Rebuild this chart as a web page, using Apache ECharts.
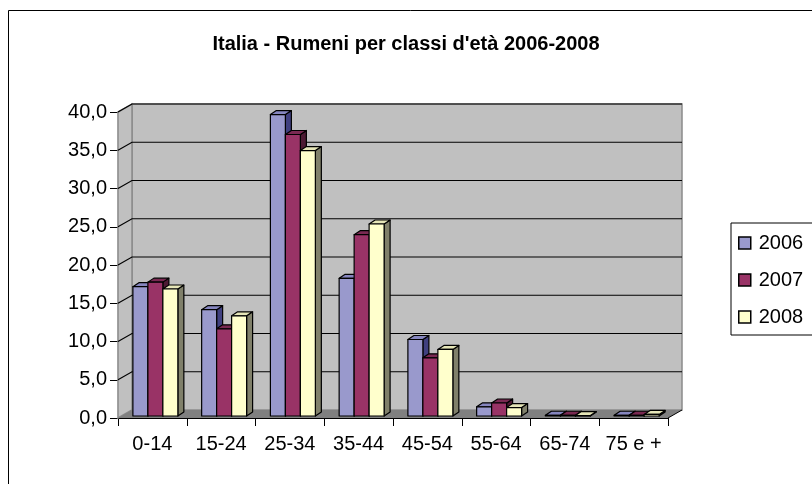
<!DOCTYPE html>
<html>
<head>
<meta charset="UTF-8">
<title>Rumeni per classi d'età</title>
<script src="https://cdn.jsdelivr.net/npm/echarts@6/dist/echarts.min.js"></script>
<style>
  html, body { margin: 0; padding: 0; background: #fff; }
  #main { width: 812px; height: 484px; }
</style>
</head>
<body>
<div id="main"></div>
<script type="text/javascript">
// categorie e valori (percentuali)
var categories = ['0-14', '15-24', '25-34', '35-44', '45-54', '55-64', '65-74', '75 e +'];
var years = ['2006', '2007', '2008'];
var values2006 = [16.9, 13.9, 39.4, 18.0, 10.0, 1.2, 0.1, 0.1];
var values2007 = [17.5, 11.4, 36.8, 23.7, 7.6, 1.7, 0.1, 0.1];
var values2008 = [16.6, 13.1, 34.7, 25.1, 8.7, 1.1, 0.05, 0.2];
var yTicks = [0, 5, 10, 15, 20, 25, 30, 35, 40];

var frontColors = ['#9999cc', '#993366', '#ffffcc'];
var topColors = ['#8686bf', '#7a2952', '#e6e6b8'];
var sideColors = ['#404080', '#4d1a33', '#80806a'];

var WALL_DX = 14, WALL_DY = 8;   // profondita pareti
var BAR_SX = 3, BAR_SY = -2;     // spostamento barre
var CAP_DX = 6, CAP_DY = 4;      // spessore barre

var FONT = 'Liberation Sans, Arial, sans-serif';

var myChart = echarts.init(document.getElementById('main'));

function barRenderer(si) {
    return function (params, api) {
        var cat = api.value(0);
        var base = api.coord([cat, 0]);
        var top = api.coord([cat, api.value(1)]);
        var bw = api.size([1, 0])[0];
        var w = bw * 0.218;
        var x0 = base[0] - 1.5 * w + si * w + BAR_SX;
        var yb = base[1] + BAR_SY;
        var yt = top[1] + BAR_SY;
        var line = { stroke: '#000', lineWidth: 1.2, lineJoin: 'round' };
        return {
            type: 'group',
            children: [
                {
                    type: 'polygon',
                    shape: { points: [[x0 + w, yt], [x0 + w + CAP_DX, yt - CAP_DY], [x0 + w + CAP_DX, yb - CAP_DY], [x0 + w, yb]] },
                    style: Object.assign({ fill: sideColors[si] }, line)
                },
                {
                    type: 'polygon',
                    shape: { points: [[x0, yt], [x0 + CAP_DX, yt - CAP_DY], [x0 + w + CAP_DX, yt - CAP_DY], [x0 + w, yt]] },
                    style: Object.assign({ fill: topColors[si] }, line)
                },
                {
                    type: 'rect',
                    shape: { x: x0, y: yt, width: w, height: yb - yt },
                    style: Object.assign({ fill: frontColors[si] }, line)
                }
            ]
        };
    };
}

// pareti e griglia
function wallRenderer(params, api) {
    var cs = params.coordSys;
    var y = api.coord([0, api.value(0)])[1];
    var left = cs.x, right = cs.x + cs.width;
    var children = [];
    if (params.dataIndex === 0) {
        var top = cs.y, bottom = cs.y + cs.height;
        children.push({
            type: 'polygon',
            shape: { points: [[left + WALL_DX, top - WALL_DY], [right + WALL_DX, top - WALL_DY], [right + WALL_DX, bottom - WALL_DY], [left + WALL_DX, bottom - WALL_DY]] },
            style: { fill: '#c0c0c0', stroke: '#8a8a8a', lineWidth: 1.5 }
        });
        children.push({
            type: 'polygon',
            shape: { points: [[left, top], [left + WALL_DX, top - WALL_DY], [left + WALL_DX, bottom - WALL_DY], [left, bottom]] },
            style: { fill: '#c0c0c0', stroke: '#8a8a8a', lineWidth: 1.5 }
        });
        children.push({
            type: 'polygon',
            shape: { points: [[left, bottom], [left + WALL_DX, bottom - WALL_DY], [right + WALL_DX, bottom - WALL_DY], [right, bottom]] },
            style: { fill: '#808080' }
        });
        children.push({
            type: 'line',
            shape: { x1: right, y1: bottom, x2: right + WALL_DX, y2: bottom - WALL_DY },
            style: { stroke: '#000', lineWidth: 1 }
        });
        return { type: 'group', children: children };
    }
    children.push({
        type: 'polyline',
        shape: { points: [[left, y], [left + WALL_DX, y - WALL_DY], [right + WALL_DX, y - WALL_DY]] },
        style: { stroke: '#000', lineWidth: 1.2, fill: null }
    });
    return { type: 'group', children: children };
}

function makeData(arr) {
    return arr.map(function (v, i) { return [i, v]; });
}

var allValues = [values2006, values2007, values2008];

var series = [{
    type: 'custom',
    name: 'wall',
    z: 1,
    silent: true,
    renderItem: wallRenderer,
    encode: { y: 0 },
    data: yTicks.map(function (t) { return [t]; })
}];
years.forEach(function (y, si) {
    series.push({
        type: 'custom',
        name: y,
        z: 3,
        itemStyle: { color: frontColors[si] },
        renderItem: barRenderer(si),
        encode: { x: 0, y: 1 },
        data: makeData(allValues[si])
    });
});

var option = {
    animation: false,
    textStyle: { fontFamily: FONT },
    title: {
        text: "Italia - Rumeni per classi d'età 2006-2008",
        left: 'center',
        top: 29,
        textStyle: { fontSize: 20, fontWeight: 'bold', color: '#000', fontFamily: FONT }
    },
    graphic: [{
        type: 'rect',
        shape: { x: 8.5, y: 10.5, width: 900, height: 600 },
        style: { fill: null, stroke: '#000', lineWidth: 1 },
        silent: true
    }],
    legend: {
        data: years,
        orient: 'vertical',
        left: 731,
        top: 223,
        icon: 'rect',
        itemWidth: 12,
        itemHeight: 12,
        itemGap: 17,
        padding: [10, 30, 8, 7],
        borderColor: '#000',
        borderWidth: 1,
        itemStyle: { borderColor: '#000', borderWidth: 1.5 },
        textStyle: { fontSize: 20, color: '#000', fontFamily: FONT, padding: [0, 0, 0, 3] }
    },
    grid: { left: 118, top: 112, width: 550, height: 306, containLabel: false },
    xAxis: {
        type: 'category',
        data: categories,
        axisLine: { lineStyle: { color: '#000', width: 1.2 } },
        axisTick: { show: true, length: 8, lineStyle: { color: '#000' } },
        axisLabel: { color: '#000', fontSize: 20, margin: 16, interval: 0, hideOverlap: false },
        splitLine: { show: false }
    },
    yAxis: {
        type: 'value',
        min: 0,
        max: 40,
        interval: 5,
        axisLine: { show: true, lineStyle: { color: '#000', width: 1.2 } },
        axisTick: { show: true, length: 8, lineStyle: { color: '#000' } },
        axisLabel: {
            color: '#000',
            fontSize: 20,
            margin: 11,
            formatter: function (v) { return v.toFixed(1).replace('.', ','); }
        },
        splitLine: { show: false }
    },
    series: series
};

myChart.setOption(option);
</script>
</body>
</html>
